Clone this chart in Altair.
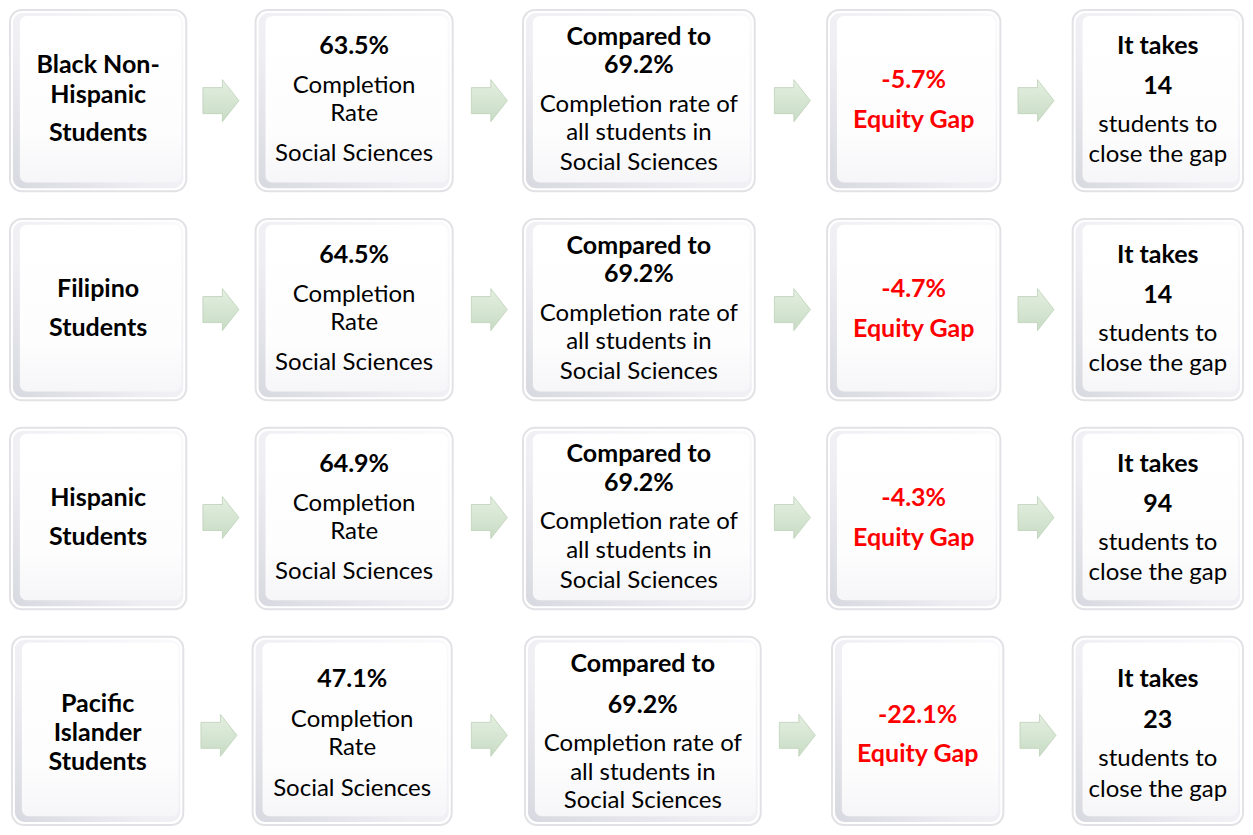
import altair as alt
import pandas as pd

# ---------------- content ----------------
group_lines = [
    ["Black Non-", "Hispanic", "Students"],
    ["Filipino", "Students"],
    ["Hispanic", "Students"],
    ["Pacific", "Islander", "Students"],
]
completion_rates = [63.5, 64.5, 64.9, 47.1]
overall_rates = [69.2, 69.2, 69.2, 69.2]
equity_gaps = [-5.7, -4.7, -4.3, -22.1]
students_to_close = [14, 14, 94, 23]
discipline = "Social Sciences"

# ---------------- layout (page pixels of the reference) ----------------
row_tops = [6, 218, 430, 642]
row_bottoms = [190, 402, 614, 833]
col_edges = [
    [(5, 183), (253, 452), (523, 757), (830, 1005), (1078, 1250)],
    [(5, 183), (253, 452), (523, 757), (830, 1005), (1078, 1250)],
    [(5, 183), (253, 452), (523, 757), (830, 1005), (1078, 1250)],
    [(7, 180), (250, 451), (525, 763), (835, 1008), (1078, 1250)],
]
arrow_x = [
    [218, 489, 795, 1041],
    [218, 489, 795, 1041],
    [218, 489, 795, 1041],
    [216, 489, 800, 1043],
]
arrow_y = [98, 310, 521, 742]

line_offsets_std = {
    "c1_3": [56, 86, 125], "c1_2": [71, 111],
    "c2": [37, 77, 106, 146], "c3": [27, 56, 96, 125, 155],
    "c4": [71, 112], "c5": [37, 77, 117, 147],
}
line_offsets_last = {
    "c1_3": [68, 98, 127], "c1_2": [71, 111],
    "c2": [43, 84, 113, 154], "c3": [28, 69, 109, 138, 167],
    "c4": [79, 119], "c5": [43, 84, 124, 155],
}

# ---------------- build tables ----------------
boxes, arrows, texts = [], [], []
for r in range(4):
    top, bot = row_tops[r], row_bottoms[r]
    offs = line_offsets_last if r == 3 else line_offsets_std
    for c, (x0, x1) in enumerate(col_edges[r]):
        boxes.append(dict(x=x0, x2=x1, y=top, y2=bot))
    for ax in arrow_x[r]:
        arrows.append(dict(x=ax, y=arrow_y[r]))

    cx = [(a + b) / 2 for a, b in col_edges[r]]
    g = group_lines[r]
    key = "c1_3" if len(g) == 3 else "c1_2"
    for i, t in enumerate(g):
        texts.append(dict(x=cx[0], y=top + offs[key][i], t=t, s="bold"))
    c2 = [f"{completion_rates[r]:.1f}%", "Completion", "Rate", discipline]
    for i, t in enumerate(c2):
        texts.append(dict(x=cx[1], y=top + offs["c2"][i], t=t, s="bold" if i == 0 else "reg"))
    c3 = ["Compared to", f"{overall_rates[r]:.1f}%", "Completion rate of", "all students in", discipline]
    for i, t in enumerate(c3):
        texts.append(dict(x=cx[2], y=top + offs["c3"][i], t=t, s="bold" if i < 2 else "reg"))
    c4 = [f"{equity_gaps[r]:.1f}%", "Equity Gap"]
    for i, t in enumerate(c4):
        texts.append(dict(x=cx[3], y=top + offs["c4"][i], t=t, s="red"))
    c5 = ["It takes", str(students_to_close[r]), "students to", "close the gap"]
    for i, t in enumerate(c5):
        texts.append(dict(x=cx[4], y=top + offs["c5"][i], t=t, s="bold" if i < 2 else "reg"))

box_df = pd.DataFrame(boxes)
bevel_df = box_df.assign(x=box_df.x + 3, x2=box_df.x2 - 3, y=box_df.y + 3, y2=box_df.y2 - 3)
face_df = box_df.assign(x=box_df.x + 10, x2=box_df.x2 - 5, y=box_df.y + 6, y2=box_df.y2 - 9)
arrow_df = pd.DataFrame(arrows)
text_df = pd.DataFrame(texts)

X = alt.Scale(domain=[3, 1251], nice=False, zero=False)
Y = alt.Scale(domain=[4, 835], nice=False, zero=False, reverse=True)

def xy(df):
    return alt.Chart(df).encode(
        x=alt.X("x:Q", scale=X, axis=None),
        y=alt.Y("y:Q", scale=Y, axis=None),
    )

def rect_enc(df):
    return alt.Chart(df).encode(
        x=alt.X("x:Q", scale=X, axis=None), x2="x2:Q",
        y=alt.Y("y:Q", scale=Y, axis=None), y2="y2:Q",
    )

outer = rect_enc(box_df).mark_rect(
    cornerRadius=12, fill="#ffffff", stroke="#e2e2e6", strokeWidth=2
)
bevel = rect_enc(bevel_df).mark_rect(
    cornerRadius=10,
    fill=alt.Gradient(
        gradient="linear", x1=1, y1=0, x2=0, y2=1,
        stops=[alt.GradientStop(color="#fafafc", offset=0),
               alt.GradientStop(color="#eeeef3", offset=0.6),
               alt.GradientStop(color="#d8d8e0", offset=1)],
    ),
)
face = rect_enc(face_df).mark_rect(
    cornerRadius=7,
    fill=alt.Gradient(
        gradient="linear", x1=0, y1=0, x2=0, y2=1,
        stops=[alt.GradientStop(color="#ffffff", offset=0),
               alt.GradientStop(color="#fdfdfe", offset=0.7),
               alt.GradientStop(color="#f6f6f8", offset=1)],
    ),
)

arrow_path = "M-0.857,-0.62 L0.07,-0.62 L0.07,-1 L0.857,0 L0.07,1 L0.07,0.62 L-0.857,0.62 Z"
arrow_layer = xy(arrow_df).mark_point(
    shape=arrow_path, size=1764, filled=True, opacity=1,
    fill=alt.Gradient(
        gradient="linear", x1=0, y1=0, x2=0, y2=1,
        stops=[alt.GradientStop(color="#e4efe1", offset=0),
               alt.GradientStop(color="#c8dcc4", offset=1)],
    ),
    stroke="#bcd1b8", strokeWidth=0.8,
)

FONT = "Lato"
bold_t = xy(text_df[text_df.s == "bold"]).mark_text(
    font=FONT, fontSize=25, fontWeight="bold", color="#000000", baseline="middle", align="center"
).encode(text="t:N")
reg_t = xy(text_df[text_df.s == "reg"]).mark_text(
    font=FONT, fontSize=24, fontWeight="normal", color="#000000", baseline="middle", align="center"
).encode(text="t:N")
red_t = xy(text_df[text_df.s == "red"]).mark_text(
    font=FONT, fontSize=25, fontWeight="bold", color="#ff0000", baseline="middle", align="center"
).encode(text="t:N")

chart = alt.layer(outer, bevel, face, arrow_layer, bold_t, reg_t, red_t).properties(
    width=1237, height=819,
    autosize=alt.AutoSizeParams(type="fit", contains="padding"),
    padding=0, background="#ffffff",
).configure_view(stroke=None)

chart.save("out.html", embed_options={"renderer": "svg", "actions": False})
